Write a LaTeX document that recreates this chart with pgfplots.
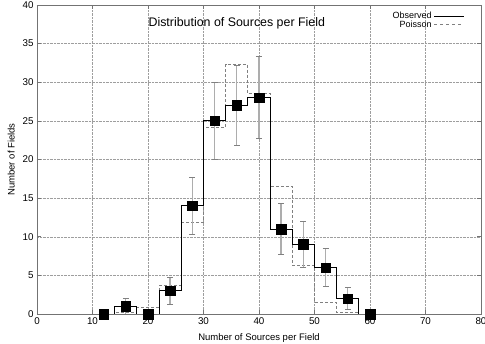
\documentclass[border=0pt]{standalone}
\usepackage{fontspec}
\setmainfont{Liberation Sans}
\usepackage{pgfplots}
\pgfplotsset{compat=1.18}
\definecolor{frame}{gray}{0.45}
\definecolor{gridc}{gray}{0.62}
\definecolor{errc}{gray}{0.68}
\definecolor{poisc}{gray}{0.5}
\begin{document}
\begin{tikzpicture}
\useasboundingbox (-37pt,-29pt) rectangle (448pt,314pt);
\begin{axis}[
  scale only axis,
  width=444pt, height=309pt,
  xmin=0, xmax=80, ymin=0, ymax=40,
  xtick={0,10,...,80}, ytick={0,5,...,40},
  tick align=inside,
  major tick length=4pt,
  axis line style={frame, line width=0.6pt},
  tick style={frame, line width=0.6pt},
  grid=major,
  major grid style={gridc, densely dotted, line width=0.5pt},
  /pgf/number format/assume math mode=true,
  tick label style={font=\fontsize{9.8}{11}\selectfont},
  label style={font=\fontsize{9.5}{11}\selectfont},
  xlabel={Number of Sources per Field},
  ylabel={Number of Fields},
  xlabel style={yshift=-2pt},
  ylabel style={yshift=1pt},
  legend style={draw=none, fill=none, at={(0.97,0.99)}, anchor=north east,
    font=\fontsize{9}{10}\selectfont, row sep=-3.5pt, cells={anchor=east},
    /tikz/every even column/.append style={column sep=2pt}},
  legend plot pos=right,
  legend image code/.code={\draw[#1] (0pt,0pt) -- (30pt,0pt);},
]
\addlegendimage{black, line width=0.9pt}
\addlegendentry{Observed}
\addlegendimage{poisc, dashed, line width=0.7pt}
\addlegendentry{Poisson}
\addplot[forget plot, poisc, dash pattern=on 3pt off 2pt, line width=0.8pt, const plot mark left] coordinates {
(10,0) (14,0.2) (18,0.8) (22,3.7) (26,11.8) (30,24.1) (34,32.3) (38,28.5)
(42,16.5) (46,6.3) (50,1.5) (54,0.2) (58,0) (62,0)};
\addplot[forget plot, black, line width=0.9pt, const plot mark left] coordinates {
(10,0) (14,1) (18,0) (22,3) (26,14) (30,25) (34,27) (38,28)
(42,11) (46,9) (50,6) (54,2) (58,0) (62,0)};
\addplot[forget plot, only marks, mark=square*, mark size=4.8pt, black,
  error bars/.cd, y dir=both, y explicit,
  error bar style={errc, line width=1.4pt},
  error mark options={rotate=90, mark size=3pt, poisc, line width=0.8pt}]
 coordinates {
(12,0) +- (0,0)
(16,1) +- (0,1)
(20,0) +- (0,0)
(24,3) +- (0,1.73)
(28,14) +- (0,3.74)
(32,25) +- (0,5)
(36,27) +- (0,5.2)
(40,28) +- (0,5.29)
(44,11) +- (0,3.32)
(48,9) +- (0,3)
(52,6) +- (0,2.45)
(56,2) +- (0,1.41)
(60,0) +- (0,0)
};
\node[font=\fontsize{12.4}{14}\selectfont] at (rel axis cs:0.45,0.942) {Distribution of Sources per Field};
\end{axis}
\end{tikzpicture}
\end{document}
